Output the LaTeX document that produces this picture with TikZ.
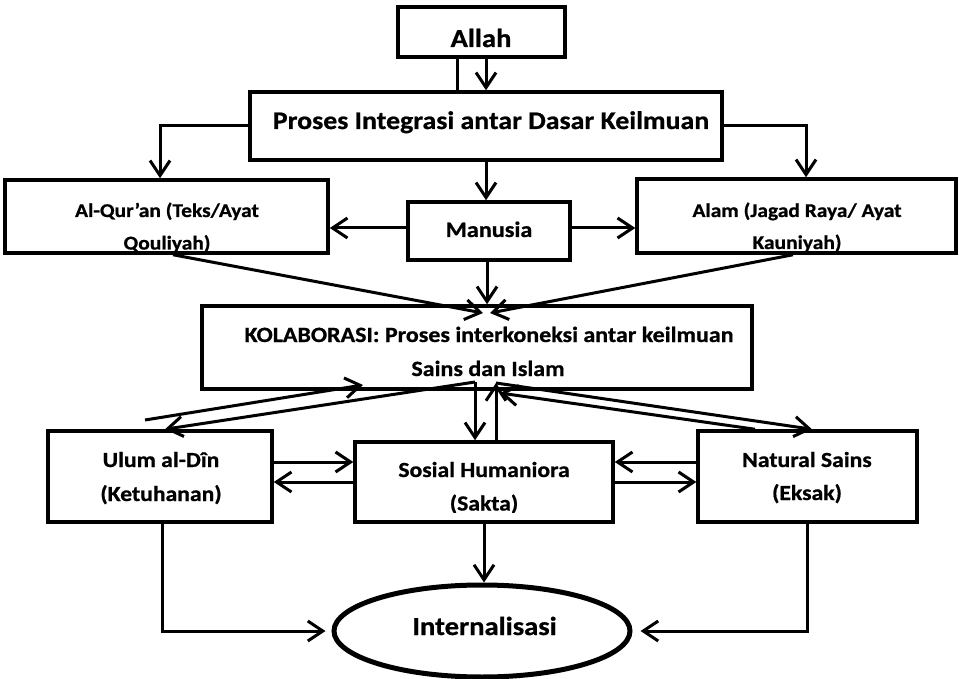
\documentclass[tikz,border=0pt]{standalone}
\usepackage{fontspec}
\setmainfont{Carlito}
\newfontfamily\labfont[FakeStretch=1.1,FakeBold=0.8]{Carlito}
\usetikzlibrary{arrows.meta,shapes.geometric}

\begin{document}
\begin{tikzpicture}[x=1pt,y=-1pt,
  box/.style={draw, line width=3.5pt, rectangle, inner sep=0pt},
  conn/.style={line width=3pt},
  arr/.style={conn, -{Straight Barb[length=15pt,width=20pt]}},
  txt/.style={anchor=base, inner sep=0pt, font=\labfont\bfseries\fontsize{#1}{#1}\selectfont},
]
\useasboundingbox (0,0) rectangle (959,679);

% ---- boxes ----
\node[box, minimum width=167pt, minimum height=50pt] (allah) at (481.5,32) {};
\node[box, minimum width=472pt, minimum height=68pt] (proses) at (486,126) {};
\node[box, minimum width=323pt, minimum height=73pt] (alq) at (166.5,216.5) {};
\node[box, minimum width=162pt, minimum height=58pt] (manusia) at (489,231) {};
\node[box, minimum width=319pt, minimum height=74pt] (alam) at (796.5,216) {};
\node[box, minimum width=550pt, minimum height=83pt] (kolab) at (477,347.5) {};
\node[box, minimum width=224pt, minimum height=91pt] (ulum) at (160,476.5) {};
\node[box, minimum width=258pt, minimum height=80pt] (sosial) at (484,482) {};
\node[box, minimum width=219pt, minimum height=91pt] (natural) at (807.5,476.5) {};
\node[draw, ellipse, line width=5pt, inner sep=0pt,
      minimum width=296pt, minimum height=92pt] (intern) at (482,631) {};

% ---- labels ----
\node[txt=26] (allah-t) at (481,47) {Allah};
\node[txt=25.3] (proses-t) at (491,129) {Proses Integrasi antar Dasar Keilmuan};
\node[txt=22] (manusia-t) at (489,237) {Manusia};
\begin{scope}
  \clip (alq.north west) rectangle ([yshift=3pt]alq.south east);
  \node[txt=19.5] (alq-1) at (167,217) {Al-Qur’an (Teks/Ayat};
  \node[txt=19.5] (alq-2) at (167,249.5) {Qouliyah)};
\end{scope}
\begin{scope}
  \clip (alam.north west) rectangle ([yshift=3pt]alam.south east);
  \node[txt=19.5] (alam-1) at (797,217) {Alam (Jagad Raya/ Ayat};
  \node[txt=19.5] (alam-2) at (797,249) {Kauniyah)};
\end{scope}
\node[txt=21.8] (kolab-1) at (489,342) {KOLABORASI: Proses interkoneksi antar keilmuan};
\node[txt=21.8] (kolab-2) at (488,376) {Sains dan Islam};
\node[txt=21.5] (ulum-1) at (161,467) {Ulum al-Dîn};
\node[txt=21.5] (ulum-2) at (161,501) {(Ketuhanan)};
\begin{scope}
  \clip (sosial.north west) rectangle ([yshift=11.5pt]sosial.south east);
  \node[txt=21.5] (sosial-1) at (484,477) {Sosial Humaniora};
  \node[txt=21.5] (sosial-2) at (484,510.5) {(Sakta)};
\end{scope}
\node[txt=21.5] (natural-1) at (807,467) {Natural Sains};
\node[txt=21.5] (natural-2) at (807,500) {(Eksak)};
\node[txt=26] (intern-t) at (484.5,635) {Internalisasi};

% ---- free ends and tips inside the collaboration box ----
\coordinate (k-in-l) at (483,313);
\coordinate (k-in-r) at (490,313);
\coordinate (a-start) at (145,420);
\coordinate (a-tip) at (363,385);
\coordinate (split) at (475,382);
\coordinate (k-up) at (496,383);
\coordinate (k-back) at (500,393);

% ---- top part ----
\draw[conn] ([xshift=-24.5pt]allah.south) -- ([xshift=-24.5pt]allah.south |- proses.north);
\draw[arr] ([xshift=4.5pt]allah.south) -- ([xshift=4.5pt]allah.south |- proses.north);
\draw[arr] (proses.west) -| ([xshift=-6.5pt]alq.north);
\draw[arr] (proses.east) -| ([xshift=9.5pt]alam.north);
\draw[arr] (proses.south) -- (proses.south |- manusia.north);
\draw[arr] ([yshift=3pt]manusia.west) -- ([yshift=3pt]manusia.west -| alq.east);
\draw[arr] ([yshift=3pt]manusia.east) -- ([yshift=3pt]manusia.east -| alam.west);
\draw[arr] ([xshift=-2pt]manusia.south) -- ([xshift=-2pt]manusia.south |- kolab.north);
\draw[arr] ([xshift=6.5pt]alq.south) -- (k-in-l);
\draw[arr] ([xshift=-3.5pt]alam.south) -- (k-in-r);

% ---- between collaboration and the three fields ----
\draw[arr] (a-start) -- (a-tip);
\draw[arr] (split) -- ([xshift=5pt]ulum.north);
\draw[arr] (split) -- (split |- sosial.north);
\draw[arr] ([xshift=12pt]sosial.north) -- (k-up);
\draw[arr] (k-up) -- ([xshift=4.5pt]natural.north);
\draw[arr] ([xshift=-52.5pt]natural.north) -- (k-back);

% ---- links within the lower row ----
\draw[arr] ([yshift=20pt]sosial.west -| ulum.east) -- ([yshift=20pt]sosial.west);
\draw[arr] (sosial.west) -- (sosial.west -| ulum.east);
\draw[arr] ([yshift=20pt]sosial.east -| natural.west) -- ([yshift=20pt]sosial.east);
\draw[arr] (sosial.east) -- (sosial.east -| natural.west);

% ---- into internalisation ----
\draw[arr] (sosial.south) -- (sosial.south |- intern.north);
\draw[arr] ([xshift=2pt]ulum.south) |- ([xshift=-6pt]intern.west);
\draw[arr] (natural.south) |- ([xshift=8pt]intern.east);
\end{tikzpicture}
\end{document}
